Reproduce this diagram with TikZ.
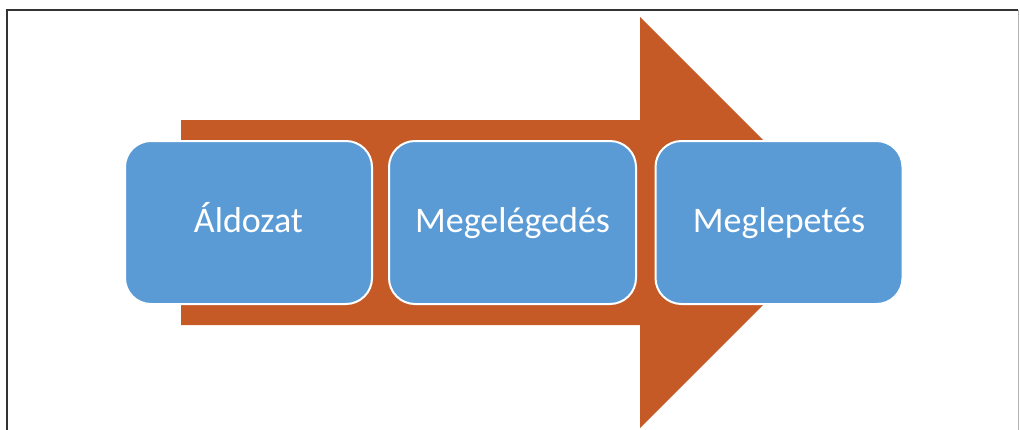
\documentclass[tikz,border=0pt]{standalone}
\usepackage{fontspec}
\setmainfont{Carlito}
\definecolor{arrowor}{RGB}{197,90,38}
\definecolor{boxblue}{RGB}{91,155,213}
\tikzset{
  stepbox/.style={draw=white, line width=2pt, fill=boxblue, rounded corners=26pt,
    minimum width=247pt, minimum height=163pt, inner sep=0pt, text=white,
    text height=27pt, text depth=8pt,
    font=\fontsize{36}{40}\selectfont}
}
\begin{document}
\begin{tikzpicture}[x=1pt,y=-1pt]
\useasboundingbox (0,0) rectangle (1020,429);
\fill[white] (0,0) rectangle (1020,429);
\begin{scope}
\clip (0,0) rectangle (1020,429);
\fill[arrowor] (181,120) -- (640,120) -- (640,17) -- (845.5,222.5) -- (640,428) -- (640,325) -- (181,325) -- cycle;
\end{scope}
\draw[line width=2pt, draw=black!80] (7,430) -- (7,10) -- (1018,10);
\draw[line width=1pt, draw=black!30] (1018.5,10) -- (1018.5,430);
\node[stepbox] (a) at (248.5,222.5) {Áldozat};
\node[stepbox] (b) at (512.5,222.5) {Megelégedés};
\node[stepbox] (c) at (779,222.5) {Meglepetés};
\end{tikzpicture}
\end{document}
